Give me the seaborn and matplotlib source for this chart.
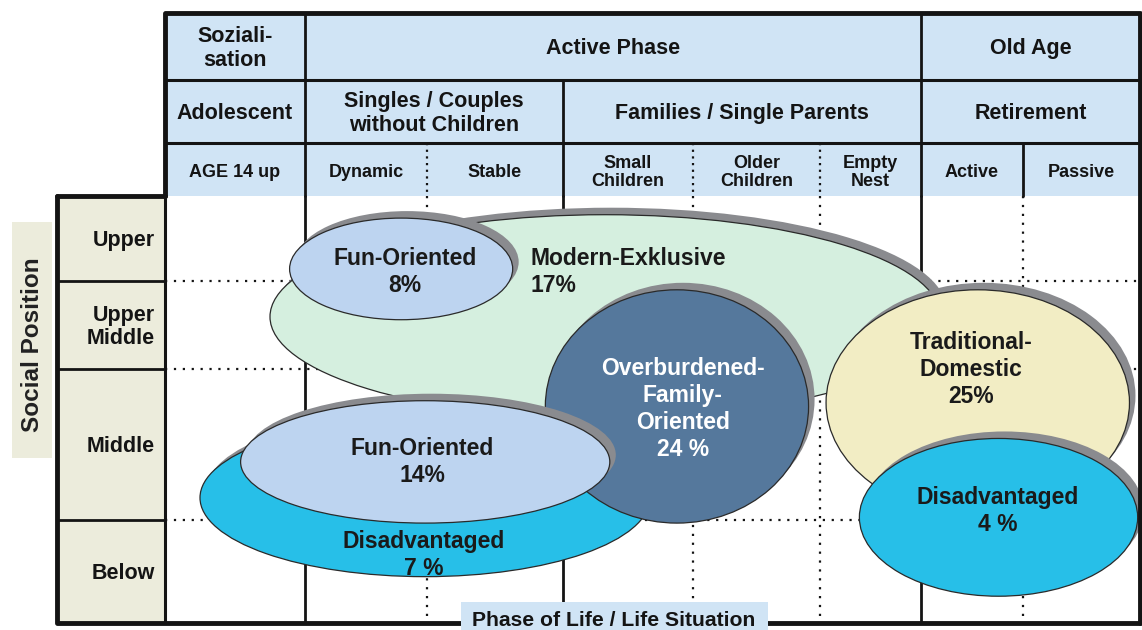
import numpy as np
import seaborn as sns
import matplotlib.pyplot as plt
from matplotlib.patches import Ellipse, Rectangle

# Life phases (header) and social positions (rows)
top_groups = ["Soziali-\nsation", "Active Phase", "Old Age"]
top_span = [(0, 1), (1, 6), (6, 8)]
mid_groups = ["Adolescent", "Singles / Couples\nwithout Children",
              "Families / Single Parents", "Retirement"]
mid_span = [(0, 1), (1, 3), (3, 6), (6, 8)]
stages = ["AGE 14 up", "Dynamic", "Stable", "Small\nChildren", "Older\nChildren",
          "Empty\nNest", "Active", "Passive"]
positions = ["Upper", "Upper\nMiddle", "Middle", "Below"]

# Segments: name, share, bounding box in grid units (stage col, position row)
seg_names = ["Modern-Exklusive", "Fun-Oriented", "Disadvantaged",
             "Overburdened-\nFamily-\nOriented", "Fun-Oriented",
             "Traditional-\nDomestic", "Disadvantaged"]
seg_share = ["17%", "8%", "7 %", "24 %", "14%", "25%", "4 %"]
seg_x = [(0.75, 6.19), (0.89, 2.63), (0.25, 3.67), (2.87, 4.91), (0.54, 3.36), (5.06, 7.91), (5.39, 7.98)]
seg_y = [(0.22, 2.33), (0.26, 1.44), (2.33, 3.55), (1.10, 3.03), (2.21, 3.03), (1.10, 2.97), (2.46, 3.74)]
label_x = [2.76, 1.82, 1.97, 3.92, 1.96, 6.49, 6.75]
label_y = [0.87, 0.87, 3.32, 2.25, 2.60, 1.98, 2.93]
seg_colors = ["#d5efdf", "#bdd4f0", "#27bfe8", "#55789c", "#bdd4f0", "#f2edc4", "#27bfe8"]
text_colors = ["#1a1a1a"] * 3 + ["white"] + ["#1a1a1a"] * 3

# layout in pixels
col_edges = [165, 305, 427, 563, 693, 820, 921, 1023, 1140]
row_edges = [196, 281, 369, 520, 623]
head_rows = [13, 80, 143, 196]
left_x = 57
dy = 2  # small nudge to centre bold text optically

sns.set_theme(style="white")
plt.rcParams["font.family"] = ["Liberation Sans", "DejaVu Sans"]
plt.rcParams["font.weight"] = "bold"

fig = plt.figure(figsize=(11.42, 6.3), dpi=100)
ax = fig.add_axes([0, 0, 1, 1])
ax.set_xlim(0, 1142)
ax.set_ylim(630, 0)
ax.axis("off")

ink = "#141414"
head_fill = "#d0e4f5"
beige = "#ececdc"

def gx(v):
    return np.interp(v, np.arange(len(col_edges)), col_edges)

def gy(v):
    return np.interp(v, np.arange(len(row_edges)), row_edges)

# header backgrounds
ax.add_patch(Rectangle((col_edges[0], head_rows[0]), col_edges[-1] - col_edges[0],
                       head_rows[-1] - head_rows[0], fc=head_fill, ec="none", zorder=0))
for r, (labels, spans) in enumerate([(top_groups, top_span), (mid_groups, mid_span)]):
    y0, y1 = head_rows[r], head_rows[r + 1]
    for lab, (a, b) in zip(labels, spans):
        ax.text((gx(a) + gx(b)) / 2, (y0 + y1) / 2 + dy, lab, ha="center", va="center",
                fontsize=15.5, color=ink, linespacing=1.2, zorder=20)
        ax.plot([gx(b), gx(b)], [y0, y1], color=ink, lw=2, zorder=20)
    ax.plot([col_edges[0], col_edges[-1]], [y1, y1], color=ink, lw=2.2, zorder=20)
for i, lab in enumerate(stages):
    ax.text((col_edges[i] + col_edges[i + 1]) / 2, (head_rows[2] + head_rows[3]) / 2 + 1 + dy, lab,
            ha="center", va="center", fontsize=13, color=ink, linespacing=1.1, zorder=20)
solid_cols = [1, 3, 6, 7]
for i in range(1, len(col_edges) - 1):
    ls = "-" if i in solid_cols else (0, (1, 2))
    ax.plot([col_edges[i]] * 2, [head_rows[2], head_rows[3]], color=ink,
            lw=2 if i in solid_cols else 1.6, ls=ls, zorder=20)

# body grid
for i in range(1, len(col_edges) - 1):
    solid = i in [1, 3, 6]
    ax.plot([col_edges[i]] * 2, [row_edges[0], row_edges[-1]], color=ink,
            lw=2 if solid else 1.6, ls="-" if solid else (0, (1, 3)), zorder=0.5)
for j in range(1, len(row_edges) - 1):
    ax.plot([col_edges[0], col_edges[-1]], [row_edges[j]] * 2, color=ink,
            lw=1.6, ls=(0, (1, 3)), zorder=0.5)

# left panel
ax.add_patch(Rectangle((left_x, row_edges[0]), col_edges[0] - left_x,
                       row_edges[-1] - row_edges[0], fc=beige, ec="none", zorder=0))
for j, lab in enumerate(positions):
    ax.text(col_edges[0] - 10, (row_edges[j] + row_edges[j + 1]) / 2 + dy, lab, ha="right",
            va="center", fontsize=15.5, color=ink, linespacing=1.1, zorder=20)
    if j > 0:
        ax.plot([left_x, col_edges[0]], [row_edges[j]] * 2, color=ink, lw=2, zorder=20)
ax.plot([col_edges[0]] * 2, [row_edges[0], row_edges[-1]], color=ink, lw=2.2, zorder=20)

ax.add_patch(Rectangle((12, 222), 40, 236, fc=beige, ec="none", zorder=0))
ax.text(33, 345, "Social Position", rotation=90, ha="center", va="center",
        fontsize=17.5, color="#222222", zorder=20)

# outer frame
ax.plot([col_edges[0], col_edges[0], col_edges[-1], col_edges[-1]],
        [row_edges[0], head_rows[0], head_rows[0], row_edges[-1]], color=ink, lw=3.5, zorder=21)
ax.plot([left_x, col_edges[0]], [row_edges[0]] * 2, color=ink, lw=3.5, zorder=21)
ax.plot([left_x, left_x, col_edges[-1]], [row_edges[0], row_edges[-1], row_edges[-1]],
        color=ink, lw=3.5, zorder=21)

# segments
for k in range(len(seg_names)):
    x0, x1 = gx(seg_x[k][0]), gx(seg_x[k][1])
    y0, y1 = gy(seg_y[k][0]), gy(seg_y[k][1])
    cx, cy, w, h = (x0 + x1) / 2, (y0 + y1) / 2, x1 - x0, y1 - y0
    z = 2 + 2 * k
    ax.add_patch(Ellipse((cx + 6, cy - 7), w, h, fc="#8a8b8f", ec="none", zorder=z))
    ax.add_patch(Ellipse((cx, cy), w, h, fc=seg_colors[k], ec="#2a2a2a", lw=0.9, zorder=z + 1))
    ha = "left" if k == 0 else "center"
    ax.text(gx(label_x[k]), gy(label_y[k]) + dy, f"{seg_names[k]}\n{seg_share[k]}", ha=ha,
            va="center", fontsize=16.5, color=text_colors[k], linespacing=1.22, zorder=30)

# bottom axis label
ax.add_patch(Rectangle((461, 602), 307, 30, fc=head_fill, ec="none", zorder=22))
ax.text(614, 621, "Phase of Life / Life Situation", ha="center", va="center",
        fontsize=15.2, color=ink, zorder=23)

fig.savefig("out.png", dpi=100)
